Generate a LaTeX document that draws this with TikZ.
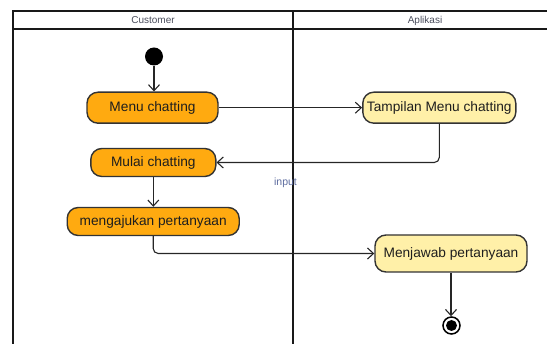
\documentclass[tikz,border=0pt]{standalone}
\usepackage{fontspec}
\setmainfont{Liberation Sans}
\usetikzlibrary{arrows.meta}

\definecolor{custfill}{HTML}{FFAA10}
\definecolor{appfill}{HTML}{FFF0A8}
\definecolor{boxline}{HTML}{333333}
\definecolor{boxtext}{HTML}{1E1E1E}
\definecolor{headtext}{HTML}{4A4D5C}
\definecolor{guardtext}{HTML}{5C6B9E}

\begin{document}
\begin{tikzpicture}[x=1pt,y=-1pt,
  lane/.style={draw=black!90, line width=2pt},
  lanehead/.style={font=\fontsize{10}{12}\selectfont, text=headtext},
  activity/.style={draw=boxline, line width=1.4pt, rounded corners=11pt,
    inner sep=0pt, font=\fontsize{13.7}{16}\selectfont, text=boxtext},
  custact/.style={activity, fill=custfill},
  appact/.style={activity, fill=appfill},
  flow/.style={draw=black!85, line width=1.1pt,
    -{Straight Barb[length=6pt,width=11pt]}},
  guard/.style={font=\fontsize{10.5}{12}\selectfont, text=guardtext}]

\useasboundingbox (0,0) rectangle (547,344);
\clip (0,0) rectangle (547,344);

% swimlane frame
\draw[lane] (13,350) -- (13,11.5) -- (560,11.5);
\draw[lane] (13,29) -- (560,29);
\draw[lane] (293,11.5) -- (293,350);
\node[lanehead] (laneA) at (153,20.5) {Customer};
\node[lanehead] (laneB) at (425,20.5) {Aplikasi};

% start and end
\node[circle, fill=black, minimum size=18pt, inner sep=0pt] (start) at (154,56.5) {};
\node[circle, draw=black, line width=1.5pt, fill=white, minimum size=17pt, inner sep=0pt] (end) at (451.5,325.5) {};
\fill[black] (end.center) circle (5.5pt);

% activities
\node[custact, minimum width=131pt, minimum height=31pt] (menu) at (152.5,107.7) {Menu chatting};
\node[appact, minimum width=153pt, minimum height=31pt] (tampil) at (439.3,107.7) {Tampilan Menu chatting};
\node[custact, minimum width=125pt, minimum height=28pt] (mulai) at (153.3,162.5) {Mulai chatting};
\node[custact, minimum width=172pt, minimum height=28pt] (ajukan) at (153.2,221.5) {mengajukan pertanyaan};
\node[appact, minimum width=152pt, minimum height=37pt] (jawab) at (451,253.5) {Menjawab pertanyaan};

% flows
\draw[flow] (start) -- (start |- menu.north);
\draw[flow] (menu.east) -- (tampil.west);
\draw[flow, rounded corners=5pt] (tampil.south) |- (mulai.east);
\draw[flow] (mulai.south) -- (mulai.south |- ajukan.north);
\draw[flow, rounded corners=5pt] (ajukan.south) |- (jawab.west);
\draw[flow] (jawab.south) -- (jawab.south |- end.north);

\node[guard] (inlabel) at (285.5,182.5) {input};
\end{tikzpicture}
\end{document}
